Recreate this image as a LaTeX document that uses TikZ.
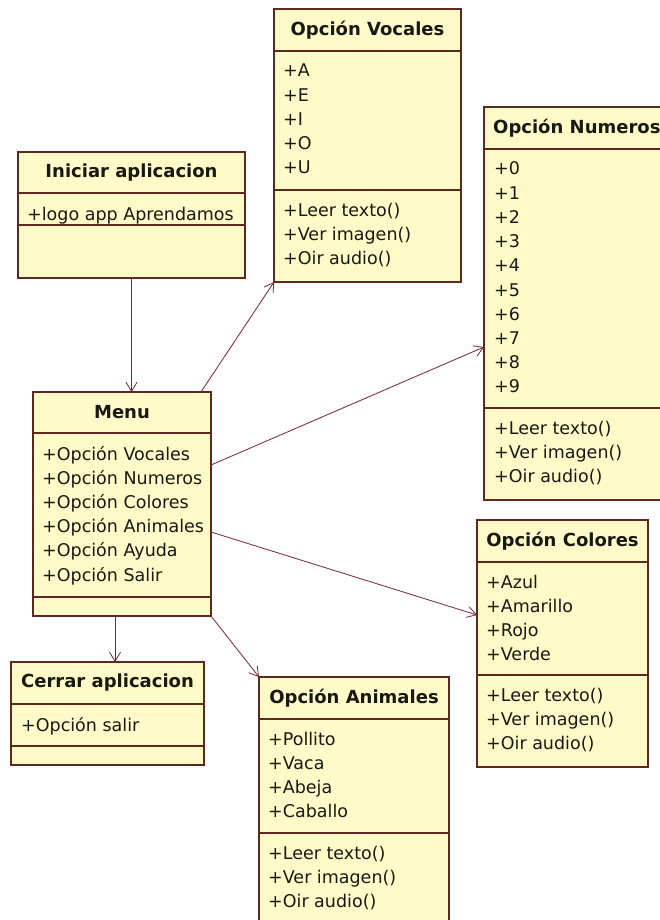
\documentclass[tikz,border=0pt]{standalone}
\usepackage{fontspec}
\setmainfont{DejaVu Sans}
\usetikzlibrary{arrows.meta,calc}
\definecolor{boxfill}{RGB}{255,250,200}
\definecolor{boxline}{RGB}{95,40,30}
\definecolor{linec}{RGB}{120,35,45}
\definecolor{txt}{RGB}{25,25,20}
\newcommand\umlitems[3]{\foreach \itm [count=\k from 0] in {#3} {\node[item] at (#1,{#2+24.2*\k}) {\itm};}}
\begin{document}
\begin{tikzpicture}[x=1pt,y=-1pt,
 cls/.style={draw=boxline, fill=boxfill, line width=1.1pt, inner sep=0pt, outer sep=0pt, anchor=north west},
 ttl/.style={font=\fontsize{18}{20}\selectfont\bfseries, text=txt, inner sep=0pt},
 item/.style={font=\fontsize{17.5}{20}\selectfont, text=txt, anchor=base west, inner sep=0pt},
 sepl/.style={draw=boxline, line width=1.1pt},
 conn/.style={draw=linec, line width=0.8pt, -{Straight Barb[length=9pt,width=11pt]}}]
\useasboundingbox (0,0) rectangle (660,920);
\fill[white] (0,0) rectangle (660,920);
\clip (0,0) rectangle (660,920);

% Opcion Vocales
\node[cls, minimum width=187pt, minimum height=273pt] (voc) at (274,9) {};
\draw[sepl] (274,51) -- (461,51);
\draw[sepl] (274,190) -- (461,190);
\node[ttl] (voct) at (367.5,30) {Opción Vocales};
\umlitems{283}{77}{+A,+E,+I,+O,+U}
\umlitems{283}{216}{+Leer texto(),+Ver imagen(),+Oir audio()}

% Iniciar aplicacion
\node[cls, minimum width=227pt, minimum height=126pt] (ini) at (18,152) {};
\draw[sepl] (18,193) -- (245,193);
\draw[sepl] (18,225) -- (245,225);
\node[ttl] (init) at (131.5,172.5) {Iniciar aplicacion};
\umlitems{27}{220}{+logo app Aprendamos}

% Opcion Numeros
\node[cls, minimum width=190pt, minimum height=393pt] (num) at (484,107) {};
\draw[sepl] (484,149) -- (674,149);
\draw[sepl] (484,408) -- (674,408);
\node[ttl, anchor=west] (numt) at (493,128) {Opción Numeros};
\umlitems{494}{175}{+0,+1,+2,+3,+4,+5,+6,+7,+8,+9}
\umlitems{494}{434}{+Leer texto(),+Ver imagen(),+Oir audio()}

% Menu
\node[cls, minimum width=178pt, minimum height=224pt] (menu) at (33,392) {};
\draw[sepl] (33,433) -- (211,433);
\draw[sepl] (33,597) -- (211,597);
\node[ttl] (menut) at (122,412.5) {Menu};
\umlitems{42}{460}{+Opción Vocales,+Opción Numeros,+Opción Colores,+Opción Animales,+Opción Ayuda,+Opción Salir}

% Cerrar aplicacion
\node[cls, minimum width=193pt, minimum height=103pt] (cer) at (11,662) {};
\draw[sepl] (11,704) -- (204,704);
\draw[sepl] (11,746) -- (204,746);
\node[ttl] (cert) at (107.5,683) {Cerrar aplicacion};
\umlitems{21}{731}{+Opción salir}

% Opcion Animales
\node[cls, minimum width=190pt, minimum height=250pt] (ani) at (259,677) {};
\draw[sepl] (259,719) -- (449,719);
\draw[sepl] (259,833) -- (449,833);
\node[ttl] (anit) at (354,698) {Opción Animales};
\umlitems{268}{745}{+Pollito,+Vaca,+Abeja,+Caballo}
\umlitems{268}{859}{+Leer texto(),+Ver imagen(),+Oir audio()}

% Opcion Colores
\node[cls, minimum width=171pt, minimum height=247pt] (colo) at (477,520) {};
\draw[sepl] (477,562) -- (648,562);
\draw[sepl] (477,675) -- (648,675);
\node[ttl] (colt) at (562.5,541) {Opción Colores};
\umlitems{486}{588}{+Azul,+Amarillo,+Rojo,+Verde}
\umlitems{486}{701}{+Leer texto(),+Ver imagen(),+Oir audio()}

% connectors
\draw[conn] (ini.south) -- (ini.south |- menu.north);
\coordinate (m2v) at ($(menu.north east)+(-10,0)$);
\draw[conn] (m2v) -- (voc.south west);
\draw[conn] ($(menu.north east)+(0,73)$) -- ($(num.north west)+(0,240)$);
\draw[conn] ($(menu.north east)+(0,140)$) -- ($(colo.north west)+(0,95)$);
\draw[conn] (menu.south east) -- (ani.north west);
\coordinate (m2c) at ($(menu.south)+(-7,0)$);
\draw[conn] (m2c) -- (m2c |- cer.north);
\end{tikzpicture}
\end{document}
